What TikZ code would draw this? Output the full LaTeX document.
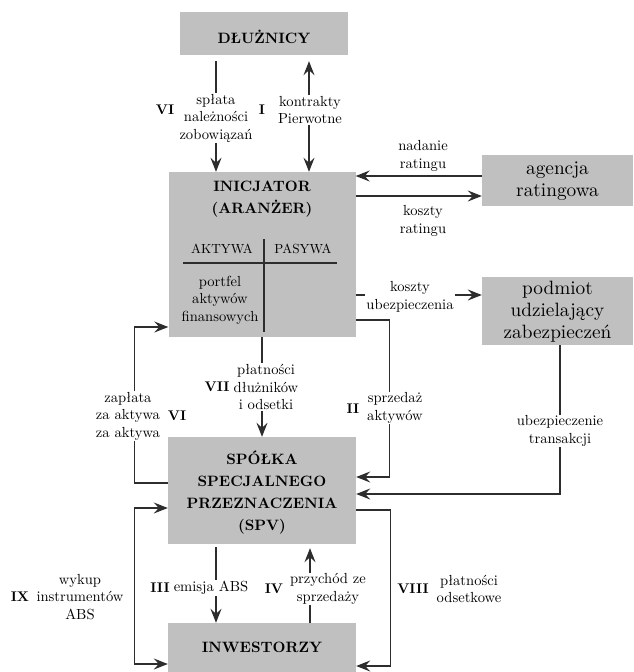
\documentclass[tikz,border=0pt]{standalone}
\usetikzlibrary{arrows.meta}
\definecolor{boxgray}{RGB}{192,192,192}
\definecolor{linegray}{RGB}{45,45,45}

\begin{document}
\begin{tikzpicture}
        [x=1pt, y=-1pt,
        box/.style={fill=boxgray, inner sep=0pt},
        head/.style={font=\fontsize{10}{14.5}\selectfont\bfseries, align=center, scale=1.5},
        big/.style={font=\fontsize{10}{11.4}\selectfont, align=center, scale=1.93},
        txt/.style={font=\fontsize{10}{12}\selectfont, align=center, inner sep=0.7pt, scale=1.46},
        cut/.style={txt, fill=white},
        col/.style={font=\fontsize{10}{12}\selectfont, scale=1.32},
        roman/.style={font=\fontsize{10}{12}\selectfont\bfseries, inner sep=0pt, scale=1.4},
        flow/.style={draw=linegray, line width=1.3pt, ->},
        cross/.style={draw=linegray, line width=1.6pt},
        >={Stealth[length=14pt, width=11pt, inset=5pt]}]

        \useasboundingbox (0,0) rectangle (634,672);

        % --- Boxes ---
        \node[box, minimum width=168pt, minimum height=43pt] (dluz) at (264,33.5) {};
        \node[box, minimum width=187pt, minimum height=165pt] (ini) at (262,254.5) {};
        \node[box, minimum width=151pt, minimum height=51pt] (agencja) at (557.5,180.5) {};
        \node[box, minimum width=151pt, minimum height=68pt] (podmiot) at (557.5,311) {};
        \node[box, minimum width=188pt, minimum height=107pt] (spv) at (262,490.5) {};
        \node[box, minimum width=188pt, minimum height=49pt] (inw) at (262,647.5) {};

        % --- Box texts ---
        \node[head] (dluzname) at (264,37) {DŁUŻNICY};
        \node[head] (ininame) at (262,199) {INICJATOR\\(ARANŻER)};
        \node[big] (agencjaname) at (557.5,181) {agencja\\ratingowa};
        \node[big] (podmiotname) at (557.5,312) {podmiot\\udzielający\\zabezpieczeń};
        \node[head] (spvname) at (262,492.5) {SPÓŁKA\\SPECJALNEGO\\PRZEZNACZENIA\\(SPV)};
        \node[head] (inwname) at (262,647) {INWESTORZY};

        % --- Inside the originator box ---
        \node[col] (aktywa) at (222,249) {AKTYWA};
        \node[col] (pasywa) at (303,249) {PASYWA};
        \node[txt] (portfel) at (220,300) {portfel\\aktywów\\finansowych};
        \draw[cross] (183,263) -- (337,263);
        \draw[cross] (264,239) -- (264,332);

        % --- Debtors <-> originator ---
        \draw[flow] ([xshift=-48pt, yshift=-6pt]dluz.south) -- ([xshift=-46pt]ini.north);
        \draw[flow, <->] ([xshift=45pt, yshift=-6pt]dluz.south) -- ([xshift=47pt]ini.north);
        \node[cut] (splata) at (216,118) {spłata\\należności\\zobowiązań};
        \node[cut] (kontrakty) at (310,110) {kontrakty\\Pierwotne};
        \node[roman] (n6a) at (165,110) {VI};
        \node[roman] (n1) at (262,110) {I};

        % --- Rating agency ---
        \draw[flow] ([yshift=4.5pt]agencja.west) -- ([yshift=78.5pt]ini.east);
        \draw[flow] ([yshift=58.5pt]ini.east) -- ([yshift=-15.5pt]agencja.west);
        \node[txt] (nadanie) at (423,156) {nadanie\\ratingu};
        \node[txt] (koszty) at (423,221) {koszty\\ratingu};

        % --- Insurer ---
        \draw[flow] ([yshift=-40.5pt]ini.east) -- ([yshift=16pt]podmiot.west);
        \node[cut] (kosztyub) at (410,297) {koszty\\ubezpieczenia};
        \draw[flow] ([xshift=2.5pt]podmiot.south) |- ([yshift=-3.5pt]spv.east);
        \node[cut] (ubezp) at (560,431) {ubezpieczenie\\transakcji};

        % --- Originator <-> SPV ---
        \draw[flow] ([yshift=-65.5pt]ini.east) -- ++(34,0) |- ([yshift=13.5pt]spv.east);
        \node[cut] (sprzedaz) at (395,408) {sprzedaż\\aktywów};
        \node[roman] (n2) at (353,409) {II};

        \draw[flow] (ini.south) -- (spv.north);
        \node[cut] (platnosci) at (266,387) {płatności\\dłużników\\i odsetki};
        \node[roman] (n7) at (217,387) {VII};

        \draw[flow] ([yshift=7.5pt]spv.west) -- ++(-33,0) |- ([yshift=-72.5pt]ini.west);
        \node[cut] (zaplata) at (128,416) {zapłata\\za aktywa\\za aktywa};
        \node[roman] (n6b) at (177,416) {VI};

        % --- SPV <-> investors ---
        \draw[flow, <->] ([yshift=-17.5pt]spv.west) -- ++(-33,0) |- ([yshift=-16.5pt]inw.west);
        \node[txt] (wykup) at (80,597) {wykup\\instrumentów\\ABS};
        \node[roman] (n9) at (20,597) {IX};

        \draw[flow] ([xshift=-46pt, yshift=-3pt]spv.south) -- ([xshift=-46pt]inw.north);
        \node[cut] (emisja) at (211,588) {emisja ABS};
        \node[roman] (n3) at (160,588) {III};

        \draw[flow] ([xshift=48pt]inw.north) -- ([xshift=48pt, yshift=-4pt]spv.south);
        \node[cut] (przychod) at (328,589) {przychód ze\\sprzedaży};
        \node[roman] (n4) at (274,589) {IV};

        \draw[flow] ([yshift=-19.5pt]spv.east) -- ++(34,0) |- ([yshift=-18.5pt]inw.east);
        \node[txt] (odsetkowe) at (469,589) {płatności\\odsetkowe};
        \node[roman] (n8) at (413,589) {VIII};
    \end{tikzpicture}
\end{document}
